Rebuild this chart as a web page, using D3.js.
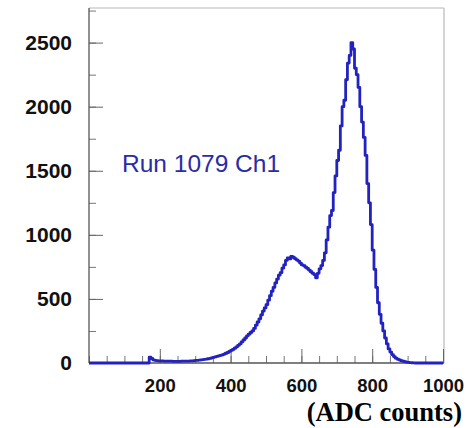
<!DOCTYPE html>
<html>
<head>
<meta charset="utf-8">
<script src="https://cdn.jsdelivr.net/npm/d3@7"></script>
<style>
  body { margin: 0; background: #fff; }
  svg { display: block; }
</style>
</head>
<body>
<div id="chart"></div>
<script>
// histogram of ADC counts, 5-count bins from 0 to 1000
var binStart = 0, binWidth = 5;
var counts = [
  0, 0, 0, 0, 0, 0, 0, 0, 0, 0, 0, 0, 0, 0, 0, 0, 0, 0, 0, 0,                // 0-95
  0, 0, 0, 0, 0, 0, 0, 0, 0, 0, 0, 0, 0, 0, 45, 35, 25, 20, 18, 17,          // 100-195
  16, 16, 15, 15, 14, 14, 14, 13, 13, 13, 13, 13, 14, 14, 14, 15, 15, 16, 17, 18, // 200-295
  20, 21, 23, 25, 27, 29, 31, 33, 36, 40, 44, 48, 52, 56, 60, 64, 70, 76, 82, 90, // 300-395
  98, 106, 116, 126, 138, 150, 165, 180, 195, 212, 225, 238, 250, 270, 295, 320, 345, 375, 405, 430, // 400-495
  455, 490, 525, 560, 590, 625, 655, 685, 705, 740, 765, 800, 820, 812, 832, 825, 815, 805, 795, 780, // 500-595
  765, 760, 748, 738, 725, 712, 700, 690, 665, 700, 735, 760, 800, 860, 960, 1060, 1150, 1190, 1330, 1460, // 600-695
  1580, 1660, 1850, 2000, 2050, 2210, 2340, 2400, 2500, 2450, 2300, 2250, 2150, 2000, 1880, 1760, 1620, 1400, 1250, 1080, // 700-795
  880, 730, 590, 470, 380, 310, 250, 195, 150, 110, 85, 65, 50, 38, 30, 24, 18, 14, 10, 7, // 800-895
  5, 3, 2, 1, 0, 0, 0, 0, 0, 0, 0, 0, 0, 0, 0, 0, 0, 0, 0, 0                 // 900-995
];
var xTicks = [200, 400, 600, 800, 1000];
var yTicks = [0, 500, 1000, 1500, 2000, 2500];
var label = "Run 1079 Ch1";
var xTitle = "(ADC counts)";

var W = 472, H = 428;
var mLeft = 89, mRight = 443, mTop = 8, mBottom = 363;

var svg = d3.select("#chart").append("svg")
    .attr("width", W)
    .attr("height", H);

svg.append("rect").attr("width", W).attr("height", H).attr("fill", "#fff");

var x = d3.scaleLinear().domain([0, 1000]).range([mLeft, mRight]);
var y = d3.scaleLinear().domain([0, 2770]).range([mBottom, mTop]);

// frame: top & right lighter
svg.append("line")
    .attr("x1", mLeft).attr("x2", mRight + 1)
    .attr("y1", mTop).attr("y2", mTop)
    .attr("stroke", "#b8b8b8").attr("stroke-width", 1.2);
svg.append("line")
    .attr("x1", mRight + 1).attr("x2", mRight + 1)
    .attr("y1", mTop).attr("y2", mBottom)
    .attr("stroke", "#b8b8b8").attr("stroke-width", 1.2);

// minor ticks
svg.append("g")
    .attr("transform", "translate(" + mLeft + ",0)")
    .call(d3.axisLeft(y).tickValues(d3.range(0, 2771, 250)).tickSize(-7).tickFormat(""))
    .call(function(g) { g.select(".domain").remove(); })
    .selectAll("line").attr("stroke", "#777");
svg.append("g")
    .attr("transform", "translate(0," + mBottom + ")")
    .call(d3.axisBottom(x).tickValues(d3.range(0, 1001, 50)).tickSize(-7).tickFormat(""))
    .call(function(g) { g.select(".domain").remove(); })
    .selectAll("line").attr("stroke", "#777");

// major ticks + labels
var yAxis = svg.append("g")
    .attr("transform", "translate(" + mLeft + ",0)")
    .call(d3.axisLeft(y).tickValues(yTicks).tickSize(-14).tickPadding(17).tickFormat(d3.format("d")))
    .call(function(g) { g.select(".domain").remove(); });
yAxis.selectAll("line").attr("stroke", "#666");
yAxis.selectAll("text")
    .attr("font-family", "Liberation Sans, Arial, sans-serif")
    .attr("font-weight", "bold")
    .attr("font-size", 21)
    .attr("fill", "#111");

var xAxis = svg.append("g")
    .attr("transform", "translate(0," + mBottom + ")")
    .call(d3.axisBottom(x).tickValues(xTicks).tickSize(-14).tickPadding(16).tickFormat(d3.format("d")))
    .call(function(g) { g.select(".domain").remove(); });
xAxis.selectAll("line").attr("stroke", "#666");
xAxis.selectAll("text")
    .attr("font-family", "Liberation Sans, Arial, sans-serif")
    .attr("font-weight", "bold")
    .attr("font-size", 18.5)
    .attr("fill", "#111");

// axis lines
svg.append("line")
    .attr("x1", mLeft).attr("x2", mLeft)
    .attr("y1", mTop).attr("y2", mBottom)
    .attr("stroke", "#555").attr("stroke-width", 1.3);
svg.append("line")
    .attr("x1", mLeft).attr("x2", mRight + 1)
    .attr("y1", mBottom).attr("y2", mBottom)
    .attr("stroke", "#555").attr("stroke-width", 1.3);

// histogram
var pts = counts.map(function(c, i) { return [binStart + i * binWidth, c]; });
pts.push([binStart + counts.length * binWidth, counts[counts.length - 1]]);

var line = d3.line()
    .x(function(d) { return x(d[0]); })
    .y(function(d) { return y(d[1]); })
    .curve(d3.curveStepAfter);

svg.append("path")
    .datum(pts)
    .attr("d", line)
    .attr("fill", "none")
    .attr("stroke", "#2222c0")
    .attr("stroke-width", 2.8)
    .attr("stroke-linejoin", "round");

svg.append("text")
    .attr("x", 122)
    .attr("y", 172)
    .attr("font-family", "Liberation Sans, Arial, sans-serif")
    .attr("font-size", 24.5)
    .attr("fill", "#2b2ba6")
    .text(label);

svg.append("text")
    .attr("x", 462)
    .attr("y", 421)
    .attr("text-anchor", "end")
    .attr("font-family", "Liberation Serif, Times New Roman, serif")
    .attr("font-weight", "bold")
    .attr("font-size", 26.5)
    .attr("fill", "#000")
    .text(xTitle);
</script>
</body>
</html>
